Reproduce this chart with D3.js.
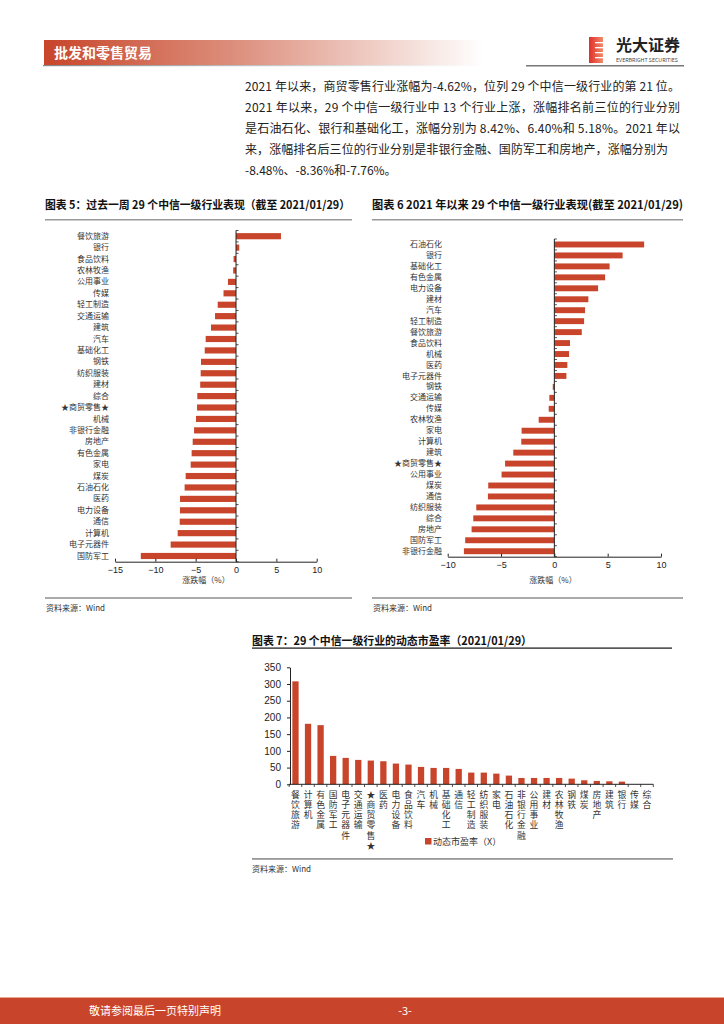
<!DOCTYPE html>
<html><head><meta charset="utf-8">
<script src="https://cdn.jsdelivr.net/npm/d3@7/dist/d3.min.js"></script>
<style>
body{margin:0;background:#fff;}
svg{display:block;font-family:"Noto Sans CJK SC","Noto Sans",sans-serif;}
</style></head>
<body><svg id="c" width="724" height="1024"></svg>
<script>
const cats5 = ["餐饮旅游","银行","食品饮料","农林牧渔","公用事业","传媒","轻工制造","交通运输","建筑","汽车","基础化工","钢铁","纺织服装","建材","综合","★商贸零售★","机械","非银行金融","房地产","有色金属","家电","煤炭","石油石化","医药","电力设备","通信","计算机","电子元器件","国防军工"];
const vals5 = [5.57,0.4,-0.3,-0.35,-1.0,-1.55,-2.27,-2.6,-3.1,-3.76,-3.88,-4.34,-4.38,-4.44,-4.8,-4.83,-4.96,-5.2,-5.37,-5.5,-5.62,-6.24,-6.37,-6.94,-6.95,-6.98,-7.23,-8.1,-11.8];
const ticks5 = [-15,-10,-5,0,5,10];

const cats6 = ["石油石化","银行","基础化工","有色金属","电力设备","建材","汽车","轻工制造","餐饮旅游","食品饮料","机械","医药","电子元器件","钢铁","交通运输","传媒","农林牧渔","家电","计算机","建筑","★商贸零售★","公用事业","煤炭","通信","纺织服装","综合","房地产","国防军工","非银行金融"];
const vals6 = [8.42,6.40,5.18,4.76,4.1,3.19,2.88,2.79,2.57,1.47,1.38,1.22,1.13,-0.15,-0.47,-0.53,-1.47,-3.07,-3.1,-3.85,-4.62,-4.95,-6.2,-6.23,-7.32,-7.6,-7.76,-8.36,-8.48];
const ticks6 = [-10,-5,0,5,10];

const cats7 = ["餐饮旅游","计算机","有色金属","国防军工","电子元器件","交通运输","★商贸零售★","医药","电力设备","食品饮料","汽车","机械","基础化工","通信","轻工制造","纺织服装","家电","石油石化","非银行金融","公用事业","建材","农林牧渔","钢铁","煤炭","房地产","建筑","银行","传媒","综合"];
const vals7 = [308,181,177,85,79,73,71,69,62,59,52,49,49,46,35,35,32,26,19,19,19,19,17,12,10,9,8,0,0];
const ticks7 = [0,50,100,150,200,250,300,350];

const paragraph = [
 "2021 年以来，商贸零售行业涨幅为-4.62%，位列 29 个中信一级行业的第 21 位。",
 "2021 年以来，29 个中信一级行业中 13 个行业上涨，涨幅排名前三位的行业分别",
 "是石油石化、银行和基础化工，涨幅分别为 8.42%、6.40%和 5.18%。2021 年以",
 "来，涨幅排名后三位的行业分别是非银行金融、国防军工和房地产，涨幅分别为",
 "-8.48%、-8.36%和-7.76%。"
];

const RED = "#c8442a";
const svg = d3.select("#c");
svg.append("rect").attr("width",724).attr("height",1024).attr("fill","#fff");

// ---------- header ----------
const defs = svg.append("defs");
const g1 = defs.append("linearGradient").attr("id","hg").attr("x1","0").attr("x2","1").attr("y1","0").attr("y2","0");
g1.append("stop").attr("offset","0").attr("stop-color","#c8452a");
g1.append("stop").attr("offset","0.45").attr("stop-color","#dd9280");
g1.append("stop").attr("offset","1").attr("stop-color","#ffffff");
svg.append("rect").attr("x",44).attr("y",40).attr("width",440).attr("height",25).attr("fill","url(#hg)");
const g2 = defs.append("linearGradient").attr("id","hl").attr("x1","0").attr("x2","1");
g2.append("stop").attr("offset","0").attr("stop-color","#888");
g2.append("stop").attr("offset","1").attr("stop-color","#fff");
svg.append("rect").attr("x",43).attr("y",65).attr("width",440).attr("height",1.2).attr("fill","url(#hl)");
svg.append("text").attr("x",54).attr("y",58).attr("fill","#fff").attr("font-size",14).attr("font-weight","bold").text("批发和零售贸易");

// logo
const lg = defs.append("linearGradient").attr("id","lg").attr("x1","0").attr("x2","1");
lg.append("stop").attr("offset","0").attr("stop-color","#e0302a");
lg.append("stop").attr("offset","1").attr("stop-color","#f08a6a");
svg.append("rect").attr("x",589).attr("y",37).attr("width",14).attr("height",26).attr("fill","url(#lg)");
[42,47,52,57].forEach(yy=>svg.append("rect").attr("x",595).attr("y",yy).attr("width",8).attr("height",1.3).attr("fill","#fff"));
svg.append("text").attr("x",616).attr("y",51).attr("font-size",16).attr("font-weight","bold").attr("fill","#222").text("光大证券");
svg.append("text").attr("x",616).attr("y",61.5).attr("font-size",5).attr("fill","#444").attr("textLength",62).attr("lengthAdjust","spacingAndGlyphs").text("EVERBRIGHT SECURITIES");
svg.append("rect").attr("x",526).attr("y",65).attr("width",158).attr("height",1.5).attr("fill","#777");

// paragraph
paragraph.forEach((s,i)=>{
  const t = svg.append("text").attr("x",245).attr("y",91+i*21).attr("font-size",12).attr("fill","#222").text(s);
  if(i<3) t.attr("textLength",435).attr("lengthAdjust","spacing");
  if(i===3) t.attr("textLength",423).attr("lengthAdjust","spacing");
});

// ---------- horizontal bar charts ----------
function hbar(o){
  const g = svg.append("g");
  g.append("text").attr("x",o.tx).attr("y",209).attr("font-size",11.5).attr("font-weight","bold").attr("fill","#111")
    .attr("textLength",o.tw).attr("lengthAdjust","spacingAndGlyphs").text(o.title);
  g.append("rect").attr("x",o.tx).attr("y",219).attr("width",o.lineW).attr("height",1.5).attr("fill","#999");
  const x = d3.scaleLinear().domain(o.dom).range(o.xr);
  const y = d3.scaleBand().domain(o.cats).range(o.yr).paddingInner(0.46).paddingOuter(0.23);
  g.selectAll("rect.bar").data(o.vals).join("rect").attr("class","bar")
    .attr("x",d=>x(Math.min(0,d))).attr("width",d=>Math.abs(x(d)-x(0)))
    .attr("y",(d,i)=>y(o.cats[i])).attr("height",y.bandwidth()).attr("fill",RED);
  g.append("line").attr("x1",x(0)).attr("x2",x(0)).attr("y1",o.yr[0]).attr("y2",o.yr[1]).attr("stroke","#222").attr("stroke-width",1);
  const bounds = d3.range(o.cats.length+1).map(i=>o.yr[0]+i*(o.yr[1]-o.yr[0])/o.cats.length);
  g.selectAll("line.yt").data(bounds).join("line").attr("class","yt")
    .attr("x1",x(0)).attr("x2",x(0)+2.5).attr("y1",d=>d).attr("y2",d=>d).attr("stroke","#222").attr("stroke-width",0.8);
  const ax = g.append("g").attr("transform",`translate(0,${o.yr[1]})`)
    .call(d3.axisBottom(x).tickValues(o.ticks).tickSizeInner(-3).tickSizeOuter(0).tickPadding(5).tickFormat(d3.format("d")));
  ax.select(".domain").attr("stroke","#222");
  ax.selectAll(".tick line").attr("stroke","#222");
  ax.selectAll("text").attr("font-family","Liberation Sans, Arial, sans-serif").attr("font-size",9).attr("fill","#222");
  const ay = g.append("g").attr("transform",`translate(${o.lx},0)`)
    .call(d3.axisLeft(y).tickSize(0).tickPadding(0));
  ay.select(".domain").remove();
  ay.selectAll("text").attr("font-size",8).attr("fill","#333").attr("font-family","Noto Sans CJK SC, sans-serif");
  g.append("text").attr("x",o.axX).attr("y",o.axY).attr("text-anchor","middle").attr("font-size",8).attr("fill","#333").text("涨跌幅（%）");
  g.append("rect").attr("x",o.tx).attr("y",597).attr("width",o.lineW).attr("height",2).attr("fill","#aaa");
  g.append("text").attr("x",o.tx+1).attr("y",611).attr("font-size",8).attr("fill","#333").text("资料来源：Wind");
}

hbar({title:"图表 5：过去一周 29 个中信一级行业表现（截至 2021/01/29）", tx:45, tw:305, lineW:307,
  cats:cats5, vals:vals5, ticks:ticks5, dom:[-15,10], xr:[115,316.7], yr:[230.5,561.7], lx:109, axX:206, axY:583});
hbar({title:"图表 6 2021 年以来 29 个中信一级行业表现(截至 2021/01/29)", tx:372, tw:311, lineW:311,
  cats:cats6, vals:vals6, ticks:ticks6, dom:[-10,10], xr:[447.7,661], yr:[239,556.7], lx:442, axX:553, axY:583});

// ---------- chart 7 ----------
(function(){
  const g = svg.append("g");
  g.append("text").attr("x",252).attr("y",645).attr("font-size",11.5).attr("font-weight","bold").attr("fill","#111")
    .attr("textLength",280).attr("lengthAdjust","spacingAndGlyphs").text("图表 7：29 个中信一级行业的动态市盈率（2021/01/29）");
  g.append("rect").attr("x",252).attr("y",647.5).attr("width",420).attr("height",1.2).attr("fill","#111");
  const x = d3.scaleBand().domain(cats7).range([289.2,653.3]).paddingInner(0.5).paddingOuter(0.25);
  const y = d3.scaleLinear().domain([0,350]).range([784.3,667.3]);
  g.selectAll("rect.bar").data(vals7).join("rect").attr("class","bar")
    .attr("x",(d,i)=>x(cats7[i])).attr("width",x.bandwidth())
    .attr("y",d=>y(d)).attr("height",d=>y(0)-y(d)).attr("fill",RED);
  const ay = g.append("g").attr("transform","translate(290,0)")
    .call(d3.axisLeft(y).tickValues(ticks7).tickSize(3).tickSizeOuter(0).tickPadding(6));
  ay.select(".domain").attr("stroke","#222");
  ay.selectAll(".tick line").attr("stroke","#222");
  ay.selectAll("text").attr("font-family","Liberation Sans, Arial, sans-serif").attr("font-size",10).attr("fill","#222");
  g.append("line").attr("x1",289.2).attr("x2",653.3).attr("y1",784.3).attr("y2",784.3).attr("stroke","#222");
  const bounds = d3.range(cats7.length+1).map(i=>289.2+i*(653.3-289.2)/cats7.length);
  g.selectAll("line.xt").data(bounds).join("line").attr("class","xt")
    .attr("x1",d=>d).attr("x2",d=>d).attr("y1",784.3).attr("y2",787).attr("stroke","#222").attr("stroke-width",0.8);
  // vertical labels: one vertical text per category
  g.selectAll("text.cl").data(cats7).join("text").attr("class","cl")
    .attr("x",d=>x(d)+x.bandwidth()/2).attr("y",790)
    .style("writing-mode","vertical-rl").style("text-orientation","upright")
    .attr("letter-spacing",1.4)
    .attr("font-size",8.8).attr("fill","#333").text(d=>d);
  g.append("rect").attr("x",425).attr("y",838).attr("width",6.5).attr("height",6.5).attr("fill",RED);
  g.append("text").attr("x",433).attr("y",845).attr("font-size",9).attr("fill","#333").text("动态市盈率（X）");
  g.append("rect").attr("x",252).attr("y",858).attr("width",421).attr("height",1.8).attr("fill","#999");
  g.append("text").attr("x",252).attr("y",872).attr("font-size",8).attr("fill","#333").text("资料来源：Wind");
})();

// ---------- footer ----------
svg.append("rect").attr("x",0).attr("y",997).attr("width",724).attr("height",27).attr("fill",RED);
svg.append("rect").attr("x",0).attr("y",997).attr("width",724).attr("height",1).attr("fill","#e7a593");
svg.append("text").attr("x",89).attr("y",1015).attr("font-size",11).attr("fill","#fff").text("敬请参阅最后一页特别声明");
svg.append("text").attr("x",405).attr("y",1015).attr("font-size",11).attr("fill","#fff").attr("text-anchor","middle").text("-3-");
</script></body></html>
